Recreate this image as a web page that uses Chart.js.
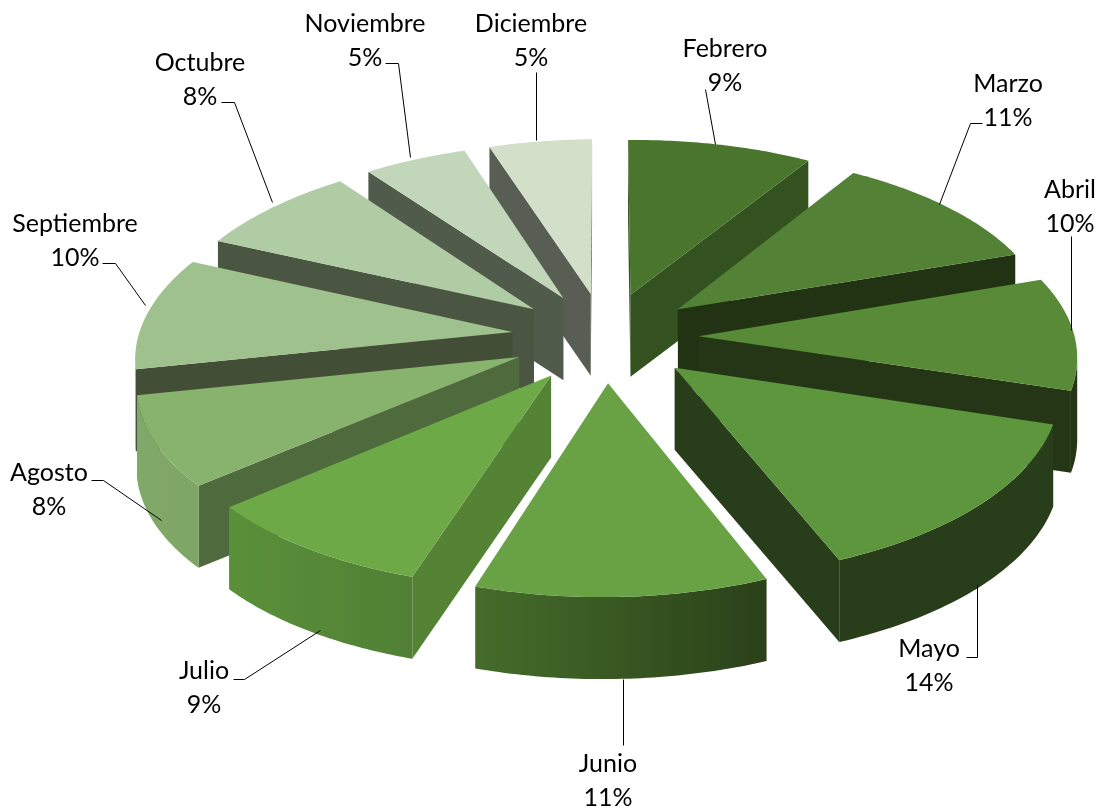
<!DOCTYPE html>
<html><head><meta charset="utf-8">
<style>html,body{margin:0;padding:0;background:#fff}canvas{display:block}</style>
<script src="https://cdn.jsdelivr.net/npm/chart.js@4"></script>
</head><body>
<div style="width:1102px;height:809px"><canvas id="c" width="1102" height="809"></canvas></div>
<script>
const months = ['Febrero','Marzo','Abril','Mayo','Junio','Julio','Agosto','Septiembre','Octubre','Noviembre','Diciembre'];
const percents = [9,11,10,14,11,9,8,10,8,5,5];

const topColors   = ['#4a752d','#538135','#588a38','#5e963d','#68a245','#6daa47','#88b36e','#9fc18e','#b0cca5','#c2d6ba','#d3dfc9'];
const wallColors  = ['#33521f','#223313','#243615','#283d1a','#2c431a','#548335','#4f6a3d','#434e36','#4a5542','#515b4b','#585e53'];
const outerLeft   = ['#33521f','#2a4018','#243615','#283d1a','#456c2a','#5a903a','#80a868','#7ea56a','#90a888','#a0b098','#b0b8a8'];
const outerRight  = ['#33521f','#223313','#243615','#283d1a','#2b4119','#4a7430','#75985e','#70965c','#80a078','#90a888','#a0b098'];

// projection of the pie plane onto the page
const view = {cx:605, cy:337, scale:375, tilt:0.48, persp:0.108, depth:82, roll:-0.008};
const explode = 0.25;
const labelLayout = [
  {x:725,y:49, line:[[705,89],[715,144]]},
  {x:1008,y:84, line:[[982,123],[970,123],[939,204]]},
  {x:1070,y:190, line:[[1071,236],[1071,330]]},
  {x:929,y:649, line:[[966,657],[977,657],[977,584]]},
  {x:608,y:764, line:[[623,745],[623,679]]},
  {x:204,y:671, line:[[233,679],[244,679],[320,630]]},
  {x:49,y:473, line:[[91,480],[103,480],[161,520]]},
  {x:75,y:224, line:[[102,263],[115,263],[145,305]]},
  {x:200,y:63, line:[[221,102],[234,102],[272,202]]},
  {x:365,y:24, line:[[385,63],[398,63],[410,157]]},
  {x:531,y:24, line:[[536,72],[536,140]]}
];

function project(u, w){
  const s = view.scale / (1 + view.persp * w);
  const dx = u * s;
  return {x: view.cx + dx, y: view.cy - w * view.tilt * s + view.roll * dx};
}

function sliceOutline(el){
  const mid = (el.startAngle + el.endAngle) / 2;
  const ox = Math.cos(mid) * explode, oy = Math.sin(mid) * explode;
  const pts = [project(ox, -oy)];
  const n = 48;
  for (let i = 0; i <= n; i++){
    const a = el.startAngle + (el.endAngle - el.startAngle) * i / n;
    pts.push(project(ox + Math.cos(a), -(oy + Math.sin(a))));
  }
  return {pts, mid, apexW:-oy};
}

const pie3d = {
  id:'pie3d',
  beforeDatasetDraw(chart){
    const ctx = chart.ctx;
    const arcs = chart.getDatasetMeta(0).data.map((el,i)=>({i, ...sliceOutline(el)}));
    arcs.sort((a,b)=>b.apexW-a.apexW);
    ctx.save();
    for (const s of arcs){
      const p = s.pts, d = view.depth, last = p.length-1;
      const xs = p.map(q=>q.x);
      const g = ctx.createLinearGradient(Math.min(...xs),0,Math.max(...xs),0);
      g.addColorStop(0,outerLeft[s.i]); g.addColorStop(1,outerRight[s.i]);
      const quad=(a,b,style)=>{
        ctx.beginPath();ctx.moveTo(a.x,a.y);ctx.lineTo(b.x,b.y);ctx.lineTo(b.x,b.y+d);ctx.lineTo(a.x,a.y+d);ctx.closePath();
        ctx.fillStyle=style;ctx.fill();
      };
      // radial walls
      if (p[1].x < p[0].x - 1) quad(p[0],p[1],wallColors[s.i]);
      if (p[0].x < p[last].x - 1) quad(p[last],p[0],wallColors[s.i]);
      // rim: one polygon for the run of segments that face the viewer
      let run=[];
      const flush=()=>{
        if(run.length>1){
          ctx.beginPath();
          run.forEach((q,k)=>k?ctx.lineTo(q.x,q.y):ctx.moveTo(q.x,q.y));
          for(let k=run.length-1;k>=0;k--)ctx.lineTo(run[k].x,run[k].y+d);
          ctx.closePath();ctx.fillStyle=g;ctx.fill();
        }
        run=[];
      };
      for (let k=1;k<last;k++){
        if (p[k+1].x < p[k].x){ if(!run.length)run.push(p[k]); run.push(p[k+1]); }
        else flush();
      }
      flush();
      // top
      ctx.beginPath();
      p.forEach((q,k)=>k?ctx.lineTo(q.x,q.y):ctx.moveTo(q.x,q.y));
      ctx.closePath();
      ctx.fillStyle=topColors[s.i];ctx.fill();
    }
    ctx.restore();
    return false;
  },
  afterDatasetsDraw(chart){
    const ctx = chart.ctx;
    ctx.save();
    ctx.strokeStyle='#000';ctx.lineWidth=1;
    ctx.font='25px Lato';ctx.fillStyle='#000';ctx.textAlign='center';ctx.textBaseline='middle';
    labelLayout.forEach((l,i)=>{
      ctx.beginPath();
      l.line.forEach((q,k)=>k?ctx.lineTo(q[0]+.5,q[1]+.5):ctx.moveTo(q[0]+.5,q[1]+.5));
      ctx.stroke();
      ctx.fillText(months[i],l.x,l.y);
      ctx.fillText(percents[i]+'%',l.x,l.y+33.5);
    });
    ctx.restore();
  }
};

new Chart(document.getElementById('c'),{
  type:'pie',
  data:{labels:months,datasets:[{data:percents,backgroundColor:topColors,borderWidth:0}]},
  options:{responsive:false,animation:false,
    plugins:{legend:{display:false},tooltip:{enabled:false}}},
  plugins:[pie3d]
});
</script>
</body></html>
